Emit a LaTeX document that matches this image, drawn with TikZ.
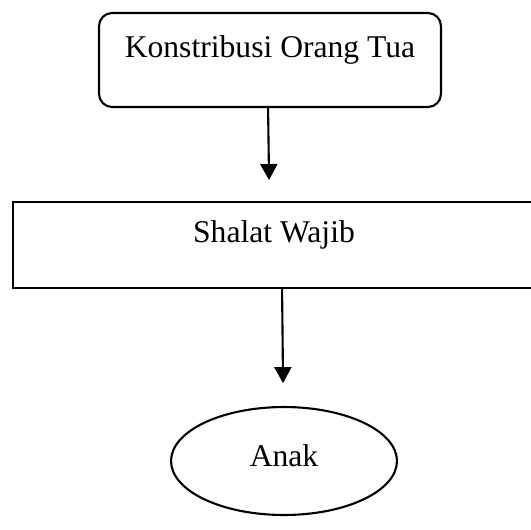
\documentclass[tikz,border=0pt]{standalone}
\usepackage{fontspec}
\setmainfont{Liberation Serif}
\usetikzlibrary{shapes.geometric,arrows.meta,calc}

\begin{document}
\begin{tikzpicture}[scale=0.02]
    \tikzstyle{every node}+=[inner sep=0pt, font=\fontsize{18}{21}\selectfont]
    \tikzstyle{garis}=[draw=black, line width=1.2pt]
    \tikzstyle{panah}=[garis, -{Triangle[length=0.32cm,width=0.34cm]}]
    \useasboundingbox (0,0) rectangle (531,-529);
    \clip (0,0) rectangle (531,-529);
    \node [garis, rounded corners=0.26cm, minimum width=6.84cm, text height=0.88cm, text depth=1.0cm] (ortu) at (270,-60) {Konstribusi Orang Tua};
    \node [garis, minimum width=10.44cm, text height=0.8cm, text depth=0.92cm] (shalat) at (274,-245) {Shalat Wajib};
    \node [garis, ellipse, minimum width=4.52cm, minimum height=2.16cm, text height=0.4cm, text depth=0.2cm] (anak) at (284,-461) {Anak};
    \coordinate (ujung1) at (269,-180);
    \coordinate (ujung2) at (283,-383);
    \draw [panah] ($(ortu.south)+(-2,0)$) -- (ujung1);
    \draw [panah] ($(shalat.south)+(8,0)$) -- (ujung2);
\end{tikzpicture}
\end{document}
